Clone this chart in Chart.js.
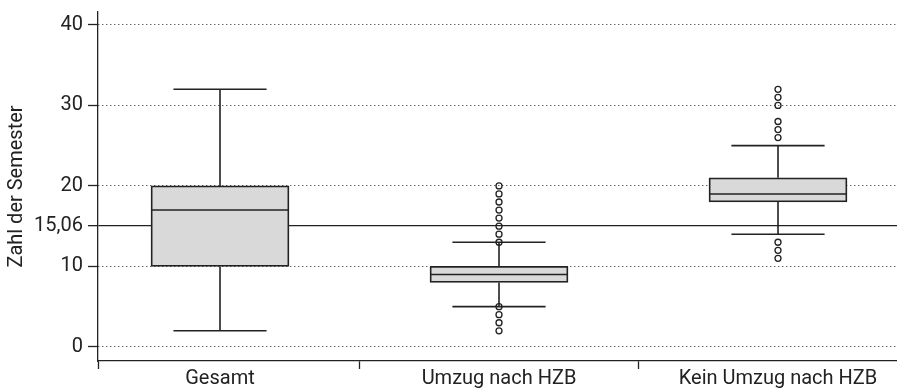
<!DOCTYPE html>
<html>
<head>
<meta charset="utf-8">
<script src="https://cdn.jsdelivr.net/npm/chart.js@4/dist/chart.umd.min.js"></script>
<style>
  html, body { margin: 0; padding: 0; background: #fff; overflow: hidden; }
  #wrap { width: 897px; height: 388px; }
</style>
</head>
<body>
<div id="wrap"><canvas id="stage"></canvas></div>
<script>
// Kategorien und Kennwerte der Boxplots
let categories = ['Gesamt', 'Umzug nach HZB', 'Kein Umzug nach HZB'];
let q1 = [10, 8, 18];
let median = [17, 9, 19];
let q3 = [20, 10, 21];
let whiskerLow = [2, 5, 14];
let whiskerHigh = [32, 13, 25];
let outliers = [
  [],
  [2, 3, 4, 5, 13, 14, 15, 16, 17, 18, 19, 20],
  [11, 12, 13, 26, 27, 28, 30, 31, 32]
];
let mean = 15.06;
let yTicks = [0, 10, 15.06, 20, 30, 40];

let ink = '#222';
let fontFamily = 'Roboto, "Liberation Sans", sans-serif';

// Box = schwebender Balken von Q1 bis Q3
let boxData = categories.map((c, i) => ({ x: i + 1, y: [q1[i], q3[i]] }));
let outlierData = [];
outliers.forEach((list, i) => list.forEach(v => outlierData.push({ x: i + 1, y: v })));

// Whisker und Median zeichnen
let boxPlugin = {
  id: 'whiskers',
  afterDatasetsDraw(chart) {
    let ctx = chart.ctx;
    let xs = chart.scales.x;
    let ys = chart.scales.y;
    let capHalf = 0.167;
    let boxHalf = 0.247;
    ctx.save();
    ctx.strokeStyle = ink;
    ctx.lineWidth = 1.6;
    categories.forEach((c, i) => {
      let cx = xs.getPixelForValue(i + 1);
      ctx.beginPath();
      // oberer Whisker
      ctx.moveTo(cx, ys.getPixelForValue(q3[i]));
      ctx.lineTo(cx, ys.getPixelForValue(whiskerHigh[i]));
      ctx.moveTo(xs.getPixelForValue(i + 1 - capHalf), ys.getPixelForValue(whiskerHigh[i]));
      ctx.lineTo(xs.getPixelForValue(i + 1 + capHalf), ys.getPixelForValue(whiskerHigh[i]));
      // unterer Whisker
      ctx.moveTo(cx, ys.getPixelForValue(q1[i]));
      ctx.lineTo(cx, ys.getPixelForValue(whiskerLow[i]));
      ctx.moveTo(xs.getPixelForValue(i + 1 - capHalf), ys.getPixelForValue(whiskerLow[i]));
      ctx.lineTo(xs.getPixelForValue(i + 1 + capHalf), ys.getPixelForValue(whiskerLow[i]));
      // Median
      ctx.moveTo(xs.getPixelForValue(i + 1 - boxHalf), ys.getPixelForValue(median[i]));
      ctx.lineTo(xs.getPixelForValue(i + 1 + boxHalf), ys.getPixelForValue(median[i]));
      ctx.stroke();
    });
    ctx.restore();
  }
};

let canvas = document.getElementById('stage');
let chart = new Chart(canvas, {
  type: 'bar',
  data: {
    datasets: [
      {
        type: 'scatter',
        label: 'Ausreißer',
        data: outlierData,
        pointRadius: 3,
        pointBorderWidth: 1.3,
        pointBorderColor: ink,
        pointBackgroundColor: 'transparent',
        showLine: false,
        order: 0
      },
      {
        type: 'bar',
        label: 'Box',
        data: boxData,
        backgroundColor: '#d9d9d9',
        borderColor: ink,
        borderWidth: 1.8,
        borderSkipped: false,
        barThickness: 138,
        order: 1
      }
    ]
  },
  options: {
    responsive: true,
    maintainAspectRatio: false,
    animation: false,
    layout: { autoPadding: false, padding: { top: 12, left: 0, right: 0, bottom: 0 } },
    plugins: {
      legend: { display: false },
      tooltip: { enabled: false }
    },
    scales: {
      x: {
        type: 'linear',
        offset: false,
        min: 0.5627,
        max: 3.4265,
        afterBuildTicks: s => { s.ticks = [0.5627, 1, 1.5, 2, 2.5, 3].map(v => ({ value: v })); },
        afterFit: s => { s.height = 27; s.paddingLeft = 0; s.paddingRight = 0; },
        grid: {
          offset: false,
          drawOnChartArea: false,
          tickLength: 8,
          tickWidth: 1.3,
          tickColor: c => (c.tick && Number.isInteger(c.tick.value)) ? 'rgba(0,0,0,0)' : ink
        },
        border: { color: ink, width: 1.3 },
        ticks: {
          autoSkip: false,
          maxRotation: 0,
          padding: -2,
          color: ink,
          font: { family: fontFamily, size: 20 },
          callback: v => Number.isInteger(v) ? categories[v - 1] : ''
        }
      },
      y: {
        min: -1.75,
        max: 41.6,
        afterBuildTicks: s => { s.ticks = yTicks.map(v => ({ value: v })); },
        afterFit: s => { s.width = 98; s.paddingTop = 0; s.paddingBottom = 0; },
        grid: {
          color: ink,
          lineWidth: c => (c.tick && c.tick.value === mean) ? 1.3 : 1,
          tickLength: 10,
          tickWidth: 1.3,
          tickColor: ink
        },
        border: {
          color: ink,
          width: 1.3,
          dash: c => (c.tick && c.tick.value === mean) ? [] : [1, 3]
        },
        ticks: {
          padding: 5,
          color: ink,
          font: { family: fontFamily, size: 20 },
          callback: v => String(v).replace('.', ',')
        },
        title: {
          display: true,
          text: 'Zahl der Semester',
          color: ink,
          padding: { top: 5, bottom: 0 },
          font: { family: fontFamily, size: 20 }
        }
      }
    }
  },
  plugins: [boxPlugin]
});
</script>
</body>
</html>
